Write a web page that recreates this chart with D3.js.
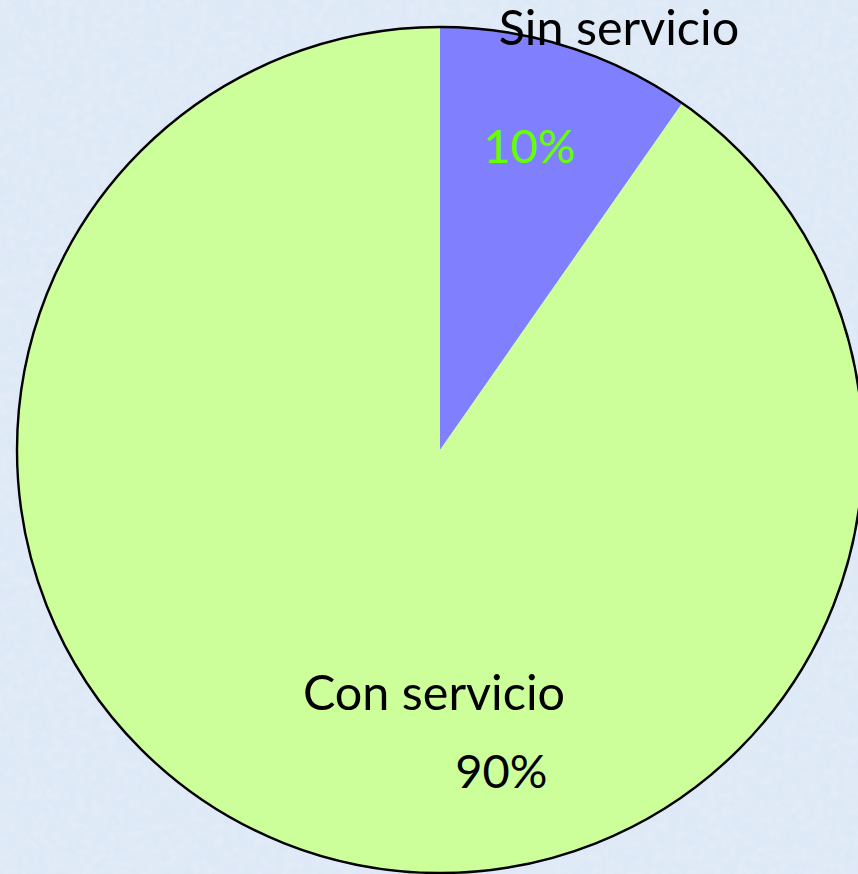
<!DOCTYPE html>
<html>
<head>
<meta charset="utf-8">
<script src="https://cdn.jsdelivr.net/npm/d3@7"></script>
<style>
  html, body { margin: 0; padding: 0; }
  svg { display: block; }
</style>
</head>
<body>
<svg width="858" height="874"></svg>
<script>
// chart data (slice angle in the picture reads a bit under 36deg)
const categories = ["Sin servicio", "Con servicio"];
const values = [9.7, 90.3];

const colors = ["#8080FF", "#CCFF99"];
const pctColors = ["#66FF00", "#000000"];

const svg = d3.select("svg");
const width = +svg.attr("width");
const height = +svg.attr("height");

// textured light blue background
const defs = svg.append("defs");
const filt = defs.append("filter").attr("id", "tex")
  .attr("x", 0).attr("y", 0).attr("width", "100%").attr("height", "100%");
filt.append("feTurbulence")
  .attr("type", "fractalNoise")
  .attr("baseFrequency", 0.13)
  .attr("numOctaves", 3)
  .attr("seed", 4)
  .attr("result", "noise");
filt.append("feColorMatrix")
  .attr("in", "noise")
  .attr("type", "matrix")
  .attr("values", "0 0 0 0 0.66  0 0 0 0 0.78  0 0 0 0 0.92  0 0 0 0.8 -0.2");

svg.append("rect").attr("width", width).attr("height", height).attr("fill", "#e2ebf7");
svg.append("rect").attr("width", width).attr("height", height).attr("filter", "url(#tex)");

const cx = 440, cy = 450, radius = 423;

const g = svg.append("g").attr("transform", `translate(${cx},${cy})`);

const pie = d3.pie().sort(null).value(d => d);
const arcs = pie(values);
const arc = d3.arc().innerRadius(0).outerRadius(radius);
const total = d3.sum(values);
const pct = v => Math.round(v / total * 100) + "%";

g.selectAll("path.slice")
  .data(arcs)
  .join("path")
  .attr("class", "slice")
  .attr("d", arc)
  .attr("fill", (d, i) => colors[i]);

// outer outline only
g.append("circle")
  .attr("r", radius)
  .attr("fill", "none")
  .attr("stroke", "#000")
  .attr("stroke-width", 2.4);

// label placement: point on slice mid-angle at a given radius, plus a nudge
function polar(d, r, dx, dy) {
  const a = (d.startAngle + d.endAngle) / 2;
  return [Math.sin(a) * r + dx, -Math.cos(a) * r + dy];
}
const namePos = [
  d => polar(d, radius, 52, -2),
  d => polar(d, 0, -6, 260)
];
const pctPos = [
  d => polar(d, radius * 0.72, -2, 4),
  d => polar(d, radius * 0.77, 159, 27)
];

const font = "Lato, 'Open Sans', sans-serif";

g.selectAll("text.name")
  .data(arcs)
  .join("text")
  .attr("class", "name")
  .attr("x", (d, i) => namePos[i](d)[0])
  .attr("y", (d, i) => namePos[i](d)[1])
  .attr("text-anchor", "middle")
  .attr("font-family", font)
  .attr("font-size", 48.5)
  .attr("fill", "#000")
  .text((d, i) => categories[i]);

g.selectAll("text.pct")
  .data(arcs)
  .join("text")
  .attr("class", "pct")
  .attr("x", (d, i) => pctPos[i](d)[0])
  .attr("y", (d, i) => pctPos[i](d)[1])
  .attr("text-anchor", "middle")
  .attr("font-family", font)
  .attr("font-size", 47)
  .attr("fill", (d, i) => pctColors[i])
  .text(d => pct(d.data));
</script>
</body>
</html>
